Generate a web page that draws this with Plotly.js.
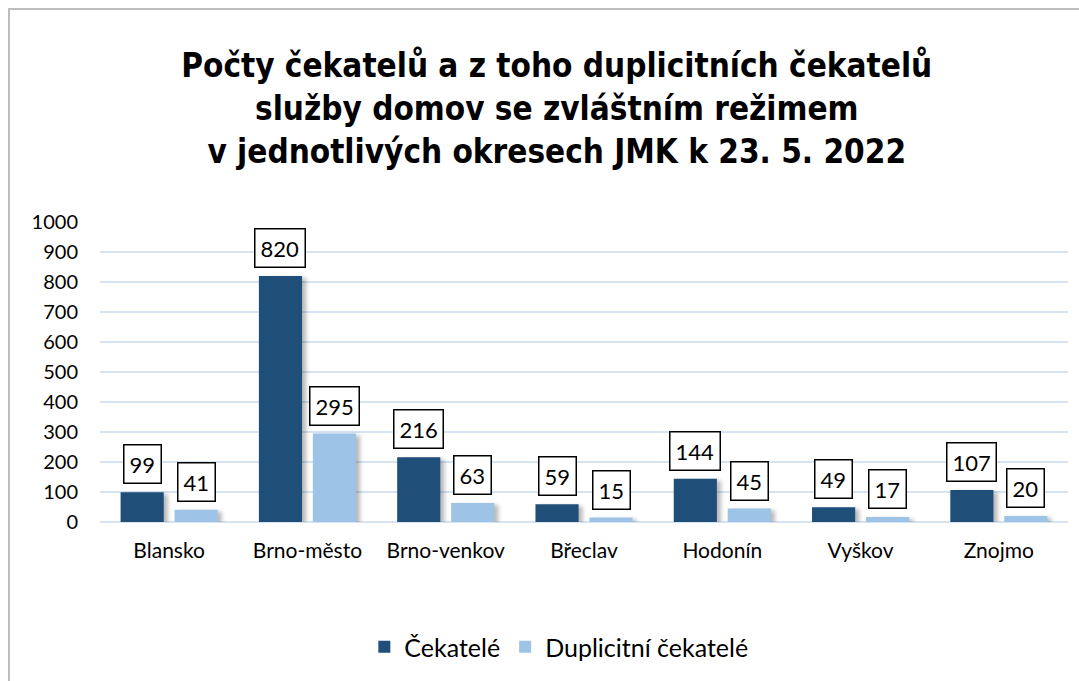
<!DOCTYPE html>
<html>
<head>
<meta charset="utf-8">
<script src="https://cdn.plot.ly/plotly-3.0.1.min.js"></script>
<style>
  html, body { margin: 0; padding: 0; background: #fff; overflow: hidden; }
  #wrap { position: relative; width: 1079px; height: 681px; }
  #chart { position: absolute; left: 0; top: 0; width: 1079px; height: 681px; }
  #frame { position: absolute; left: 8px; top: 8px; width: 1200px; height: 800px;
           border-left: 2px solid #BDBDBD; border-top: 2px solid #BDBDBD; pointer-events: none; }
  #chart .bars path { filter: drop-shadow(4px 2px 2px rgba(0,0,0,0.28)); }
</style>
</head>
<body>
<div id="wrap">
  <div id="chart"></div>
  <div id="frame"></div>
</div>
<script>
const categories = ["Blansko", "Brno-město", "Brno-venkov", "Břeclav", "Hodonín", "Vyškov", "Znojmo"];
const cekatele = [99, 820, 216, 59, 144, 49, 107];
const duplicitni = [41, 295, 63, 15, 45, 17, 20];
const seriesNames = ["Čekatelé", "Duplicitní čekatelé"];
const yTicks = [0, 100, 200, 300, 400, 500, 600, 700, 800, 900, 1000];
const titleText = "Počty čekatelů a z toho duplicitních čekatelů<br>služby domov se zvláštním režimem<br>v jednotlivých okresech JMK k 23. 5. 2022";

const darkColor = "#1F4E79";
const lightColor = "#9DC3E6";
const baseFont = "Lato, 'Noto Sans', sans-serif";

const traces = [
  { type: "bar", name: seriesNames[0], x: categories, y: cekatele,
    marker: { color: darkColor }, hoverinfo: "skip" },
  { type: "bar", name: seriesNames[1], x: categories, y: duplicitni,
    marker: { color: lightColor }, hoverinfo: "skip" }
];

const annotations = [];
function addLabels(vals, shift) {
  vals.forEach((v, i) => {
    annotations.push({
      x: categories[i], y: v, xref: "x", yref: "y",
      text: String(v), showarrow: false,
      xanchor: "center", yanchor: "bottom",
      xshift: shift, yshift: 8,
      font: { family: baseFont, size: 22, color: "#000" },
      bgcolor: "#fff", bordercolor: "#000", borderwidth: 1.5, borderpad: 5
    });
  });
}
addLabels(cekatele, -27);
addLabels(duplicitni, 27);

const layout = {
  width: 1079, height: 681,
  autosize: false,
  margin: { l: 100, r: 11, t: 222, b: 159, autoexpand: false },
  paper_bgcolor: "#fff", plot_bgcolor: "#fff",
  title: {
    text: titleText,
    font: { family: "'DejaVu Sans Condensed', 'Liberation Sans', Arial, sans-serif", size: 33, color: "#000", weight: "bold" },
    x: 0.516, xanchor: "center", y: 0.887, yanchor: "middle", yref: "container"
  },
  barmode: "group", bargap: 0.22, bargroupgap: 0.2,
  showlegend: true,
  legend: {
    orientation: "h", x: 0.474, xanchor: "center",
    y: -0.417, yanchor: "middle",
    font: { family: baseFont, size: 25, color: "#000" },
    traceorder: "normal"
  },
  xaxis: {
    type: "category", showgrid: false, zeroline: false, showline: false,
    ticks: "", tickangle: 0, automargin: false,
    tickfont: { family: baseFont, size: 21, color: "#000" },
    ticklabelstandoff: 14
  },
  yaxis: {
    range: [0, 1000], tickvals: yTicks, ticktext: yTicks.map(String),
    showgrid: true, gridcolor: "#D5E3F3", gridwidth: 1.5,
    zeroline: true, zerolinecolor: "#D5E3F3", zerolinewidth: 1.5,
    showline: false, ticks: "", automargin: false,
    tickfont: { family: baseFont, size: 20, color: "#000" },
    ticklabelstandoff: 21
  },
  annotations: annotations
};

Plotly.newPlot("chart", traces, layout, { staticPlot: true, displayModeBar: false });
</script>
</body>
</html>
